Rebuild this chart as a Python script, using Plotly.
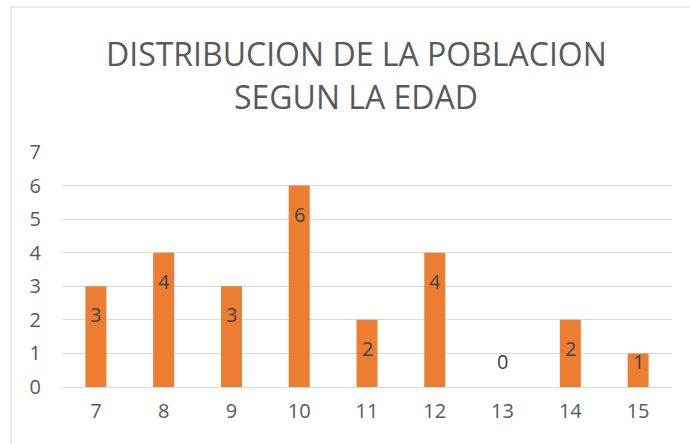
import plotly.graph_objects as go

edades = ["7", "8", "9", "10", "11", "12", "13", "14", "15"]
personas = [3, 4, 3, 6, 2, 4, 0, 2, 1]
titulo_lineas = ["DISTRIBUCION DE LA POBLACION", "SEGUN LA EDAD"]
y_ticks = [0, 1, 2, 3, 4, 5, 6, 7]

FONT = "Open Sans"
GRAY = "#595959"

fig = go.Figure()
fig.add_trace(go.Bar(
    x=edades, y=personas,
    marker=dict(color="#ED7D31", line=dict(width=0)),
    hoverinfo="x+y",
))

# data labels (Excel-style, placed a little below the bar top)
for i, v in enumerate(personas):
    fig.add_annotation(
        x=i, y=max(v - 0.85, 0.76), xref="x", yref="y",
        text=str(v), showarrow=False,
        font=dict(family=FONT, size=20, color="#404040"),
    )

# two-line title
for txt, ypos in zip(titulo_lineas, [1.42, 1.237]):
    fig.add_annotation(
        x=0.482, y=ypos, xref="paper", yref="paper",
        xanchor="center", yanchor="middle",
        text=txt, showarrow=False,
        font=dict(family=FONT, size=32, color=GRAY),
    )

# chart border
fig.add_shape(type="rect", xref="paper", yref="paper",
              x0=-0.0836, x1=1.2, y0=-0.5, y1=1.617,
              line=dict(color="#d9d9d9", width=1.2), layer="below")

fig.update_layout(
    width=690, height=444,
    margin=dict(l=62, r=18, t=152, b=57),
    paper_bgcolor="white", plot_bgcolor="white",
    bargap=0.69,
    showlegend=False,
    font=dict(family=FONT, color=GRAY),
)
fig.update_xaxes(
    type="category", showgrid=False, showline=False, ticks="",
    tickfont=dict(family=FONT, size=20, color=GRAY),
    ticklabelstandoff=10,
)
fig.update_yaxes(
    range=[0, 7], tickvals=y_ticks, showgrid=True, gridcolor="#d9d9d9", gridwidth=1,
    zeroline=True, zerolinecolor="#d9d9d9", zerolinewidth=1,
    showline=False, ticks="",
    tickfont=dict(family=FONT, size=20, color=GRAY),
    ticklabelstandoff=20,
)

fig.write_html("out.html", config={"displayModeBar": False},
               post_script="document.body.style.margin='0';")
